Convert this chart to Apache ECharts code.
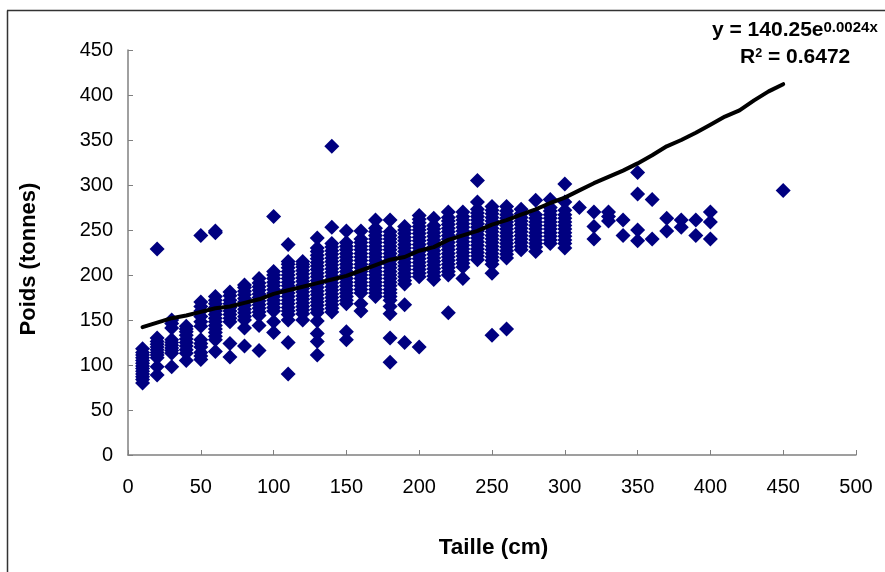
<!DOCTYPE html>
<html>
<head>
<meta charset="utf-8">
<title>Poids / Taille</title>
<style>
html, body { margin: 0; padding: 0; background: #fff; }
#chart { width: 885px; height: 572px; }
</style>
<script src="https://cdn.jsdelivr.net/npm/echarts@6/dist/echarts.min.js"></script>
</head>
<body>
<div id="chart"></div>
<script>
// poids, une liste par taille
var p10 = [80, 84, 87, 90, 93, 96, 99, 102, 105, 108, 111, 114, 118];
var p20 = [89, 98, 108, 111, 114, 117, 120, 123, 126, 130, 229];
var p30 = [98, 113, 116, 119, 122, 125, 128, 141, 146, 150];
var p40 = [105, 113, 117, 121, 125, 129, 133, 137, 140, 143];
var p50 = [106, 110, 114, 120, 124, 128, 143, 148, 154, 160, 165, 170, 244];
var p60 = [115, 128, 132, 136, 140, 144, 148, 152, 156, 160, 164, 168, 172, 176, 247, 249];
var p70 = [109, 124, 148, 152, 156, 160, 164, 168, 172, 177, 181];
var p80 = [121, 141, 150, 154, 158, 162, 166, 170, 174, 178, 182, 186, 189];
var p90 = [116, 144, 155, 159, 163, 167, 171, 175, 179, 183, 187, 191, 196];
var p100 = [136, 148, 160, 164, 168, 172, 176, 180, 184, 188, 192, 196, 200, 204, 265];
var p110 = [90, 125, 150, 156, 160, 164, 168, 172, 176, 180, 184, 188, 192, 196, 200, 204, 208, 212, 215, 234];
var p120 = [150, 157, 161, 165, 169, 173, 177, 181, 185, 189, 193, 197, 201, 205, 209, 212, 215];
var p130 = [111, 126, 135, 149, 158, 162, 166, 170, 174, 178, 182, 186, 190, 194, 198, 202, 206, 210, 214, 218, 222, 226, 230, 241];
var p140 = [159, 163, 167, 171, 175, 179, 183, 187, 191, 195, 199, 203, 207, 211, 215, 219, 223, 227, 231, 235, 253, 343];
var p150 = [128, 137, 168, 172, 176, 180, 184, 188, 192, 196, 200, 204, 208, 212, 216, 220, 224, 228, 232, 236, 249];
var p160 = [160, 168, 180, 184, 188, 192, 196, 200, 204, 208, 212, 216, 220, 224, 228, 232, 236, 240, 249];
var p170 = [176, 180, 184, 188, 192, 196, 200, 204, 208, 212, 216, 220, 224, 228, 232, 236, 240, 244, 248, 252, 261];
var p180 = [103, 130, 157, 165, 172, 176, 180, 184, 188, 192, 196, 200, 204, 208, 212, 216, 220, 224, 228, 232, 236, 240, 244, 248, 261];
var p190 = [125, 167, 190, 194, 198, 202, 206, 210, 214, 218, 222, 226, 230, 234, 238, 242, 246, 250, 254];
var p200 = [120, 198, 202, 206, 210, 214, 218, 222, 226, 230, 234, 238, 242, 246, 250, 254, 258, 262, 266];
var p210 = [195, 199, 203, 207, 211, 215, 219, 223, 227, 231, 235, 239, 243, 247, 251, 255, 263];
var p220 = [158, 200, 204, 208, 212, 216, 220, 224, 228, 232, 236, 240, 244, 248, 252, 256, 260, 264, 270];
var p230 = [196, 209, 213, 217, 221, 225, 229, 233, 237, 241, 245, 249, 253, 257, 261, 265, 270];
var p240 = [217, 221, 225, 229, 233, 237, 241, 245, 249, 253, 257, 261, 265, 269, 273, 281, 305];
var p250 = [133, 202, 212, 216, 220, 224, 228, 232, 236, 240, 244, 248, 252, 256, 260, 264, 268, 272, 276];
var p260 = [140, 219, 223, 227, 231, 235, 239, 243, 247, 251, 255, 259, 263, 267, 271, 276];
var p270 = [228, 232, 236, 240, 244, 248, 252, 256, 260, 264, 268, 273];
var p280 = [226, 231, 235, 239, 243, 247, 251, 255, 259, 263, 267, 283];
var p290 = [235, 239, 243, 247, 251, 255, 259, 263, 267, 271, 275, 284];
var p300 = [230, 235, 239, 243, 247, 251, 255, 259, 263, 267, 272, 281, 301];
var p310 = [275];
var p320 = [240, 254, 270];
var p330 = [260, 265, 270];
var p340 = [244, 261];
var p350 = [238, 250, 290, 314];
var p360 = [240, 284];
var p370 = [249, 263];
var p380 = [253, 261];
var p390 = [244, 261];
var p400 = [240, 259, 270];
var p450 = [294];

var colonnes = [
	[10, p10], [20, p20], [30, p30], [40, p40], [50, p50], [60, p60], [70, p70], [80, p80],
	[90, p90], [100, p100], [110, p110], [120, p120], [130, p130], [140, p140], [150, p150],
	[160, p160], [170, p170], [180, p180], [190, p190], [200, p200], [210, p210], [220, p220],
	[230, p230], [240, p240], [250, p250], [260, p260], [270, p270], [280, p280], [290, p290],
	[300, p300], [310, p310], [320, p320], [330, p330], [340, p340], [350, p350], [360, p360],
	[370, p370], [380, p380], [390, p390], [400, p400], [450, p450]
];

// courbe de tendance, lue point par point
var tendanceX = [10, 20, 30, 40, 50, 60, 70, 80, 90, 100, 110, 120, 130, 140, 150, 160, 170, 180, 190, 200, 210, 220, 230, 240, 250, 260, 270, 280, 290, 300, 310, 320, 330, 340, 350, 360, 370, 380, 390, 400, 410, 420, 430, 440, 450];
var tendanceY = [142, 147, 152, 155, 159, 163, 165, 169, 173, 179, 183, 187, 191, 195, 199, 205, 211, 217, 220, 227, 231, 239, 244, 249, 256, 261, 267, 273, 280, 286, 294, 302, 309, 316, 324, 333, 343, 350, 358, 367, 376, 383, 394, 404, 412];

var points = [];
colonnes.forEach(function(c) {
	c[1].forEach(function(v) {
		points.push([c[0], v]);
	});
});
var tendance = tendanceX.map(function(x, i) {
	return [x, tendanceY[i]];
});

var police = '"Liberation Sans", Arial, sans-serif';
var gris = '#808080';

var myChart = echarts.init(document.getElementById('chart'), null, { renderer: 'canvas' });
myChart.setOption({
	animation: false,
	backgroundColor: '#fff',
	grid: { left: 128, top: 50, width: 728, height: 405 },
	xAxis: {
		type: 'value', min: 0, max: 500, interval: 50,
		name: 'Taille (cm)', nameLocation: 'middle', nameGap: 81,
		nameTextStyle: { fontFamily: police, fontWeight: 'bold', fontSize: 22.5, color: '#000', padding: [0, 0, 0, 3] },
		axisLine: { lineStyle: { color: gris, width: 1.5 } },
		axisTick: { show: true, inside: true, length: 5, lineStyle: { color: gris } },
		axisLabel: { margin: 22, fontFamily: police, fontSize: 20, color: '#000', showMinLabel: true, showMaxLabel: true },
		splitLine: { show: false }
	},
	yAxis: {
		type: 'value', min: 0, max: 450, interval: 50,
		name: 'Poids (tonnes)', nameLocation: 'middle', nameGap: 88,
		nameTextStyle: { fontFamily: police, fontWeight: 'bold', fontSize: 22, color: '#000', padding: [0, 13, 0, 0] },
		axisLine: { show: true, lineStyle: { color: gris, width: 1.5 } },
		axisTick: { show: true, inside: true, length: 5, lineStyle: { color: gris } },
		axisLabel: { margin: 15, fontFamily: police, fontSize: 20, color: '#000', showMinLabel: true, showMaxLabel: true },
		splitLine: { show: false }
	},
	graphic: [{
		type: 'line', silent: true,
		shape: { x1: 7.5, y1: 572, x2: 7.5, y2: 10.5 },
		style: { stroke: '#333', lineWidth: 1.5 }
	}, {
		type: 'line', silent: true,
		shape: { x1: 7, y1: 10.5, x2: 885, y2: 10.5 },
		style: { stroke: '#333', lineWidth: 1.5 }
	}, {
		type: 'text', silent: true, x: 712, y: 20,
		style: {
			text: '{a|y = 140.25e}{b|0.0024x}',
			rich: {
				a: { fontFamily: police, fontWeight: 'bold', fontSize: 21, fill: '#000' },
				b: { fontFamily: police, fontWeight: 'bold', fontSize: 15, fill: '#000', verticalAlign: 'top' }
			}
		}
	}, {
		type: 'text', silent: true, x: 740, y: 47,
		style: {
			text: '{a|R}{b|2}{a| = 0.6472}',
			rich: {
				a: { fontFamily: police, fontWeight: 'bold', fontSize: 21, fill: '#000' },
				b: { fontFamily: police, fontWeight: 'bold', fontSize: 12.5, fill: '#000', verticalAlign: 'top' }
			}
		}
	}],
	series: [{
		type: 'scatter',
		symbol: 'diamond',
		symbolSize: 15,
		itemStyle: { color: '#000080', opacity: 1 },
		data: points,
		z: 2
	}, {
		type: 'line',
		data: tendance,
		showSymbol: false,
		symbol: 'none',
		smooth: false,
		lineStyle: { color: '#000', width: 4, cap: 'round' },
		z: 3
	}]
});
</script>
</body>
</html>
